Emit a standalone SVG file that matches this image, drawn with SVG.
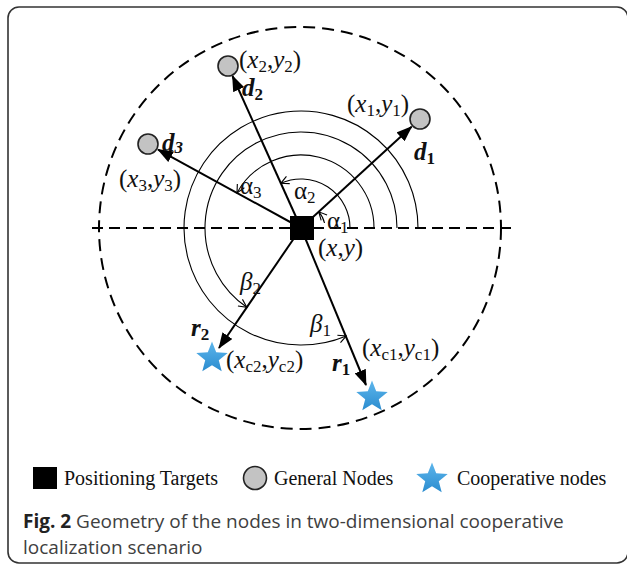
<svg xmlns="http://www.w3.org/2000/svg" width="627" height="565" viewBox="0 0 627 565">
<style>
.lbl{font-family:"Liberation Serif","Times New Roman",serif;font-size:25px;fill:#111}
.it{font-style:italic}
.bi{font-style:italic;font-weight:bold}
.sb{font-size:17px}
.leg{font-family:"Liberation Serif","Times New Roman",serif;font-size:20px;fill:#111}
.cap{font-family:"Open Sans","Noto Sans",sans-serif;font-size:19px;fill:#404040}
.vec{stroke:#000;stroke-width:2;fill:none;marker-end:url(#ah)}
.arc{stroke:#000;stroke-width:1.1;fill:none;marker-end:url(#oh)}
.gn{fill:#c3c3c3;stroke:#222;stroke-width:1.6}
</style>
<defs>
<marker id="ah" markerUnits="userSpaceOnUse" markerWidth="16" markerHeight="12" viewBox="0 0 16 12" refX="15" refY="6" orient="auto">
<path d="M0,0 L16,6 L0,12 Z" fill="#000"/>
</marker>
<marker id="oh" markerUnits="userSpaceOnUse" markerWidth="10" markerHeight="10" viewBox="0 0 10 10" refX="9" refY="5" orient="auto">
<path d="M1,1 L9,5 L1,9" fill="none" stroke="#000" stroke-width="1.1"/>
</marker>
<linearGradient id="sg" x1="0" y1="0" x2="0" y2="1">
<stop offset="0" stop-color="#5db6ec"/>
<stop offset="1" stop-color="#2b8ccf"/>
</linearGradient>
<path id="star" d="M0,-16.5 L4.2,-5.8 L15.7,-5.1 L6.8,2.2 L9.7,13.3 L0,7.2 L-9.7,13.3 L-6.8,2.2 L-15.7,-5.1 L-4.2,-5.8 Z" fill="url(#sg)"/>
</defs>

<rect x="8" y="7" width="620" height="556" rx="11" fill="#fff" stroke="#333" stroke-width="1.6"/>

<g id="frame-lines">
<circle cx="300" cy="228" r="201" fill="none" stroke="#000" stroke-width="2" stroke-dasharray="12 7"/>
<line x1="92" y1="228" x2="514" y2="228" stroke="#000" stroke-width="2" stroke-dasharray="11 6"/>
</g>

<g id="connectors">
<path class="arc" d="M324.5,223 A24,24 0 0 0 318.7,211.8"/>
<path class="arc" d="M350,228 A49,49 0 0 0 280.8,183.3"/>
<path class="arc" d="M374,228 A73,73 0 0 0 237,192.9"/>
<path class="arc" d="M397,228 A96,96 0 1 0 246.8,307.2"/>
<path class="arc" d="M418,228 A117,117 0 1 0 346.3,335.9"/>
<line class="vec" x1="301" y1="228" x2="232.5" y2="76"/>
<line class="vec" x1="301" y1="228" x2="411.6" y2="126.7"/>
<line class="vec" x1="301" y1="228" x2="158" y2="149.6"/>
<line class="vec" x1="301" y1="228" x2="219" y2="348"/>
<line class="vec" x1="301" y1="228" x2="366" y2="385"/>
</g>

<g id="target">
<rect x="290" y="216" width="24" height="24" fill="#000"/>
<text class="lbl" x="318" y="256">(<tspan class="it">x</tspan>,<tspan class="it">y</tspan>)</text>
</g>

<g id="node1">
<circle class="gn" cx="420" cy="119" r="10"/>
<text class="lbl" x="347" y="112">(<tspan class="it">x</tspan><tspan class="sb" dy="4">1</tspan><tspan dy="-4">,</tspan><tspan class="it">y</tspan><tspan class="sb" dy="4">1</tspan><tspan dy="-4">)</tspan></text>
<text class="lbl" x="414" y="160"><tspan class="bi">d</tspan><tspan class="sb" font-weight="bold" dy="4">1</tspan></text>
</g>

<g id="node2">
<circle class="gn" cx="228" cy="66" r="10"/>
<text class="lbl" x="239" y="68">(<tspan class="it">x</tspan><tspan class="sb" dy="4">2</tspan><tspan dy="-4">,</tspan><tspan class="it">y</tspan><tspan class="sb" dy="4">2</tspan><tspan dy="-4">)</tspan></text>
<text class="lbl" x="242" y="96"><tspan class="bi">d</tspan><tspan class="sb" font-weight="bold" dy="4">2</tspan></text>
</g>

<g id="node3">
<circle class="gn" cx="148" cy="144" r="10"/>
<text class="lbl" x="162" y="151"><tspan class="bi">d</tspan><tspan class="sb" font-weight="bold" font-style="italic" dy="2">3</tspan></text>
<text class="lbl" x="119" y="187">(<tspan class="it">x</tspan><tspan class="sb" dy="4">3</tspan><tspan dy="-4">,</tspan><tspan class="it">y</tspan><tspan class="sb" dy="4">3</tspan><tspan dy="-4">)</tspan></text>
</g>

<g id="coop2">
<use href="#star" x="212" y="358"/>
<text class="lbl" x="226" y="368">(<tspan class="it">x</tspan><tspan class="sb" dy="4">c2</tspan><tspan dy="-4">,</tspan><tspan class="it">y</tspan><tspan class="sb" dy="4">c2</tspan><tspan dy="-4">)</tspan></text>
<text class="lbl" x="191" y="336"><tspan class="bi">r</tspan><tspan class="sb" font-weight="bold" dy="4">2</tspan></text>
</g>

<g id="coop1">
<use href="#star" x="372" y="397"/>
<text class="lbl" x="362" y="356">(<tspan class="it">x</tspan><tspan class="sb" dy="4">c1</tspan><tspan dy="-4">,</tspan><tspan class="it">y</tspan><tspan class="sb" dy="4">c1</tspan><tspan dy="-4">)</tspan></text>
<text class="lbl" x="332" y="371"><tspan class="bi">r</tspan><tspan class="sb" font-weight="bold" dy="4">1</tspan></text>
</g>

<g id="angles">
<text class="lbl" x="327" y="229">α<tspan class="sb" dy="4">1</tspan></text>
<text class="lbl" x="294" y="199">α<tspan class="sb" dy="4">2</tspan></text>
<text class="lbl" x="240" y="194">α<tspan class="sb" dy="4">3</tspan></text>
<text class="lbl" x="240" y="290"><tspan class="it">β</tspan><tspan class="sb" dy="4">2</tspan></text>
<text class="lbl" x="310" y="332"><tspan class="it">β</tspan><tspan class="sb" dy="4">1</tspan></text>
</g>

<g id="legend">
<rect x="33" y="467" width="24" height="22" fill="#000"/>
<text class="leg" x="64" y="485">Positioning Targets</text>
<circle class="gn" cx="255" cy="478" r="11.5"/>
<text class="leg" x="274" y="485">General Nodes</text>
<use href="#star" x="432" y="479"/>
<text class="leg" x="457" y="485">Cooperative nodes</text>
</g>

<g id="caption">
<text class="cap" x="23" y="528"><tspan font-weight="bold" fill="#222">Fig. 2</tspan> Geometry of the nodes in two-dimensional cooperative</text>
<text class="cap" x="23" y="554">localization scenario</text>
</g>
</svg>
